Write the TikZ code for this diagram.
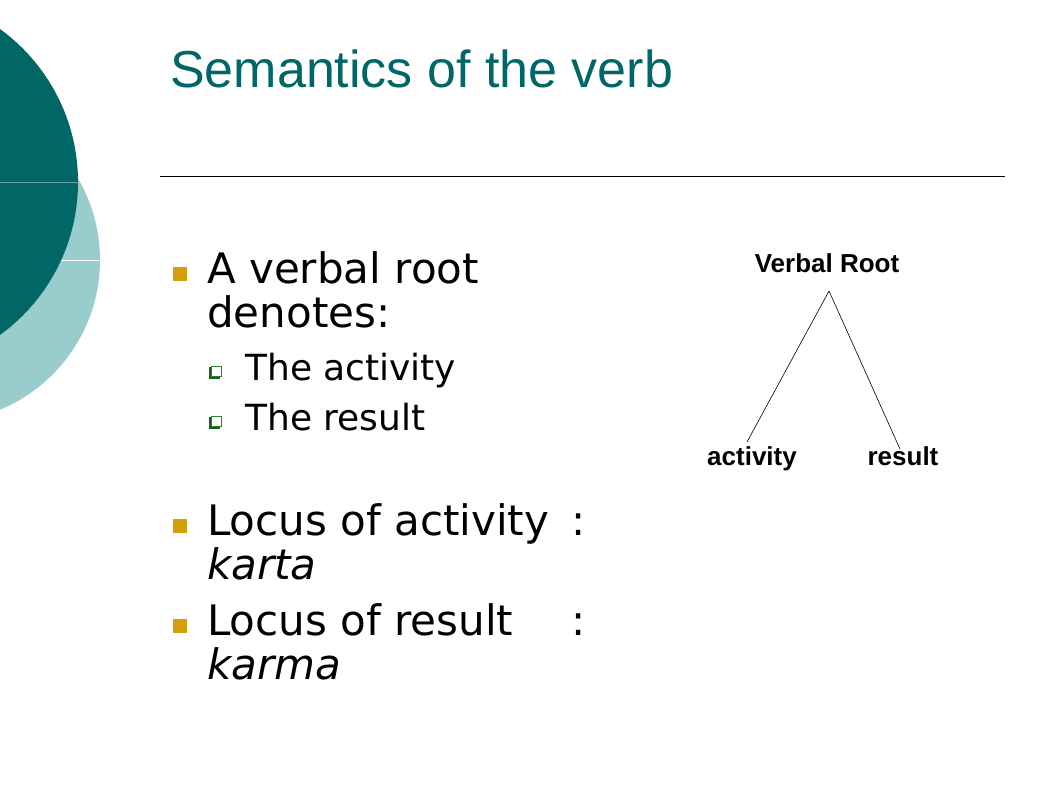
\documentclass[tikz,border=0pt]{standalone}
\usepackage{fontspec}
\usepackage{tikz}
\setmainfont{DejaVu Sans}
\newfontfamily\arialfont{Liberation Sans}
\definecolor{darkteal}{RGB}{0,102,102}
\definecolor{lightteal}{RGB}{153,204,204}
\definecolor{bulletgold}{RGB}{210,160,10}
\definecolor{subgreen}{RGB}{40,130,40}

\begin{document}
\begin{tikzpicture}[x=1pt,y=-1pt,
  body/.style={anchor=base west, inner sep=0pt, font=\fontsize{42}{44}\selectfont},
  subbody/.style={anchor=base west, inner sep=0pt, font=\fontsize{36}{40}\selectfont},
  leaf/.style={anchor=base, inner sep=0pt, font=\arialfont\bfseries\fontsize{26}{28}\selectfont}]
\clip (0,0) rectangle (1058,793);
% background decoration
\fill[lightteal] (-62,260) circle (162);
\draw[white, line width=1pt] (0,260) -- (101,260);
\fill[darkteal] (-111,182) circle (189);
\draw[darkteal!60!white, line width=1pt] (0,182) -- (78,182);
% title
\node[anchor=base west, inner sep=0pt, text=darkteal, font=\arialfont\fontsize{52}{60}\selectfont] (title) at (170,87) {Semantics of the verb};
\coordinate (ruleL) at (160,176);
\coordinate (ruleR) at (1005,176);
\draw[line width=0.8pt] (ruleL) -- (ruleR);
% bullets
\foreach \y in {274,526,626}
  \fill[bulletgold] (173,\y-7) rectangle (187,\y+7);
\foreach \y in {371,421}{
  \fill[subgreen!70!black] (209,\y-4) rectangle (220,\y+8);
  \filldraw[fill=white, draw=subgreen, line width=0.6pt] (211,\y-5) rectangle (221,\y+5);
}
\node[body] (b1) at (207,283) {A verbal root};
\node[body] (b1b) at (207,327) {denotes:};
\node[subbody] (s1) at (245,380) {The activity};
\node[subbody] (s2) at (245,430) {The result};
\node[body] (b2) at (207,535) {\makebox[364pt][l]{Locus of activity}:};
\node[body] (b2b) at (207,579) {\itshape karta};
\node[body] (b3) at (207,635) {\makebox[364pt][l]{Locus of result}:};
\node[body] (b3b) at (207,679) {\itshape karma};
% tree
\node[leaf] (root) at (827,272) {Verbal Root};
\node[leaf] (act) at (752,465) {activity};
\node[leaf] (res) at (903,465) {result};
\coordinate (apex) at (829,291);
\coordinate (actTop) at (747,442);
\coordinate (resTop) at (900,449);
\draw[line width=0.6pt] (apex) -- (actTop);
\draw[line width=0.6pt] (apex) -- (resTop);
\end{tikzpicture}
\end{document}
